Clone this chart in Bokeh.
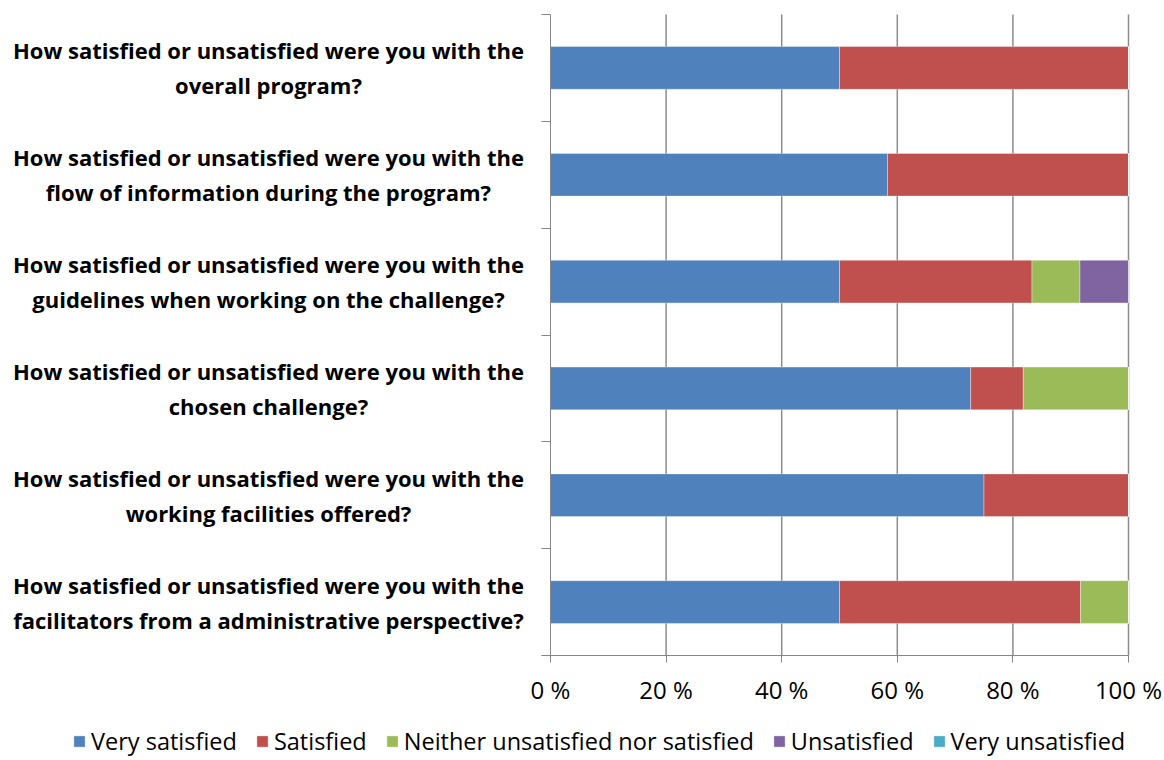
from bokeh.plotting import figure
from bokeh.models import (Range1d, FixedTicker, ColumnDataSource, Legend, LegendItem)
from bokeh.core.properties import value
from bokeh.embed import file_html
from bokeh.resources import INLINE

questions = [
    "How satisfied or unsatisfied were you with the\noverall program?",
    "How satisfied or unsatisfied were you with the\nflow of information during the program?",
    "How satisfied or unsatisfied were you with the\nguidelines when working on the challenge?",
    "How satisfied or unsatisfied were you with the\nchosen challenge?",
    "How satisfied or unsatisfied were you with the\nworking facilities offered?",
    "How satisfied or unsatisfied were you with the\nfacilitators from a administrative perspective?",
]
very_satisfied = [50.0, 58.3, 50.0, 72.7, 75.0, 50.0]
satisfied = [50.0, 41.7, 33.3, 9.1, 25.0, 41.7]
neither = [0.0, 0.0, 8.3, 18.2, 0.0, 8.3]
unsatisfied = [0.0, 0.0, 8.4, 0.0, 0.0, 0.0]
very_unsatisfied = [0.0, 0.0, 0.0, 0.0, 0.0, 0.0]
series_names = ["Very satisfied", "Satisfied", "Neither unsatisfied nor satisfied",
                "Unsatisfied", "Very unsatisfied"]
x_ticks = [0, 20, 40, 60, 80, 100]
x_tick_labels = ["0 %", "20 %", "40 %", "60 %", "80 %", "100 %"]

colors = ["#4F81BD", "#C0504D", "#9BBB59", "#8064A2", "#4BACC6"]
FONT = "Open Sans"

n = len(questions)

# canvas / layout geometry (pixels)
W, H = 1164, 760
AX0, AX1 = 550.0, 1128.0      # x pixels of 0 % and 100 %
TOP, BOT = 14.0, 655.0        # y pixels of plot top and bottom
PXU = (AX1 - AX0) / 100.0
PYU = (BOT - TOP) / n
x_lo, x_hi = -AX0 / PXU, (W - AX0) / PXU
y_hi, y_lo = n + TOP / PYU, -(H - BOT) / PYU

ypos = [n - i - 0.5 for i in range(n)]
keys = ["vs", "s", "ne", "u", "vu"]
source = ColumnDataSource(dict(y=ypos, label=questions, vs=very_satisfied, s=satisfied,
                               ne=neither, u=unsatisfied, vu=very_unsatisfied))

p = figure(width=W, height=H, output_backend="svg", toolbar_location=None,
           x_range=Range1d(x_lo, x_hi), y_range=Range1d(y_lo, y_hi),
           min_border=0)
p.outline_line_color = None
p.background_fill_color = "white"

# vertical gridlines only over the plot area
p.segment(x0=x_ticks[1:], x1=x_ticks[1:], y0=[0] * 5, y1=[n] * 5,
          line_color="#8C8C8C", line_width=1.5)
p.xgrid.grid_line_color = None
p.ygrid.grid_line_color = None

rs = p.hbar_stack(keys, y="y", height=0.4, color=colors, source=source,
                  line_color="white", line_alpha=0.35, line_width=1)

# question labels, centred left of the axis
p.text(x=(268 - AX0) / PXU, y="y", text="label", source=source,
       text_align="center", text_baseline="middle",
       text_font=value(FONT), text_font_style="bold", text_font_size="22px",
       text_color="#000000", text_line_height=1.17)

# x axis at y = 0
xa = p.xaxis[0]
xa.fixed_location = 0
xa.bounds = (-9 / PXU, 100)
xa.ticker = FixedTicker(ticks=x_ticks)
xa.major_label_overrides = {t: l for t, l in zip(x_ticks, x_tick_labels)}
xa.axis_line_color = "#868686"
xa.major_tick_line_color = "#868686"
xa.major_tick_out = 7
xa.major_tick_in = 0
xa.minor_tick_line_color = None
xa.major_label_text_font = FONT
xa.major_label_text_font_size = "24px"
xa.major_label_text_color = "#000000"
xa.major_label_standoff = 10

# y axis at x = 0 (ticks at category boundaries)
ya = p.yaxis[0]
ya.fixed_location = 0
ya.bounds = (0, n)
ya.ticker = FixedTicker(ticks=list(range(n + 1)))
ya.major_label_overrides = {i: "" for i in range(n + 1)}
ya.axis_line_color = "#868686"
ya.major_tick_line_color = "#868686"
ya.major_tick_out = 9
ya.major_tick_in = 0
ya.minor_tick_line_color = None
ya.major_label_standoff = 0

legend = Legend(items=[LegendItem(label=nm, renderers=[r]) for nm, r in zip(series_names, rs)],
                orientation="horizontal", location=(72, 3),
                label_text_font=FONT, label_text_font_size="23.5px", label_text_color="#000000",
                glyph_width=14, glyph_height=14, label_standoff=5, spacing=18,
                border_line_color=None, background_fill_alpha=0, margin=0, padding=0)
p.add_layout(legend)

open("out.html", "w").write(file_html(p, INLINE))
